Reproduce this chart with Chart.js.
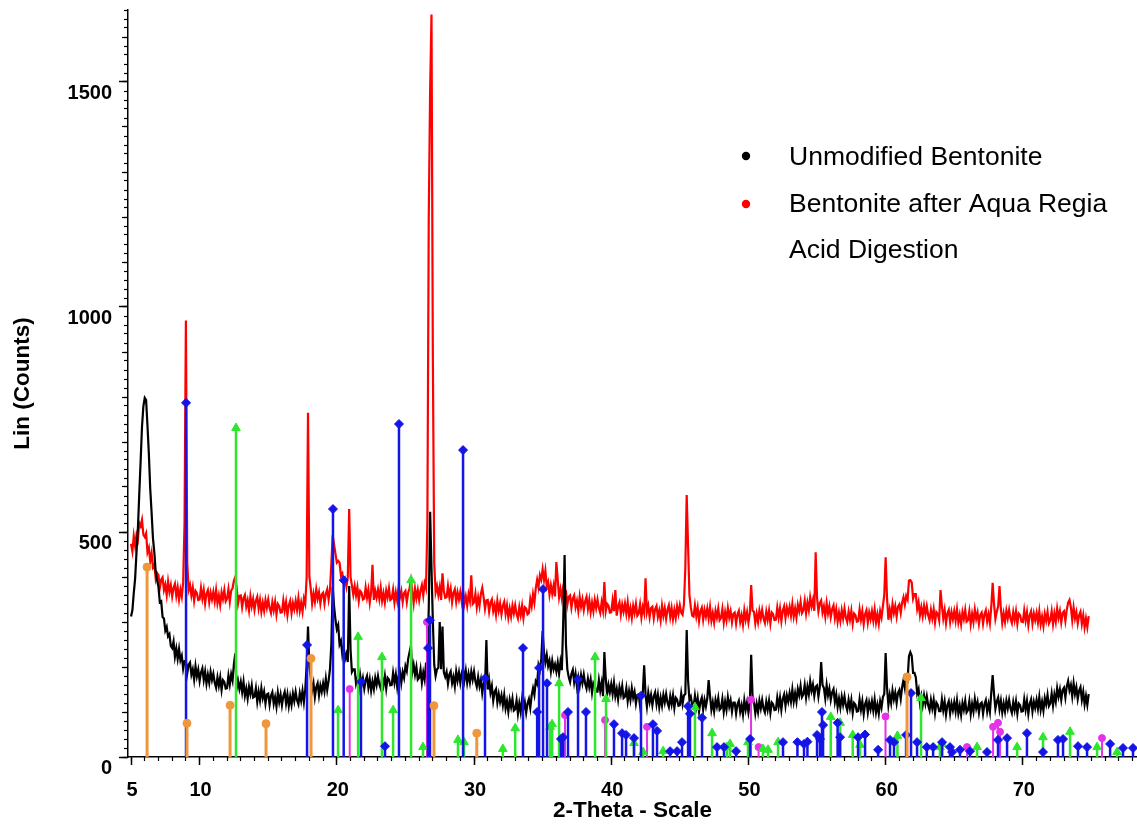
<!DOCTYPE html>
<html>
<head>
<meta charset="utf-8">
<title>XRD - Bentonite</title>
<script src="https://cdn.jsdelivr.net/npm/chart.js@4.4.1/dist/chart.umd.min.js"></script>
<style>
  html, body { margin: 0; padding: 0; background: #fff; }
  canvas { display: block; }
</style>
</head>
<body>
<canvas id="xrd" width="1137" height="830"></canvas>
<script>
// scan grid, degrees 2-theta
const scanStart = 5.0;
const scanStep = 0.1;

// counts, one row per degree (x.0 ... x.9)
const unmodified = [
  312,326,364,397,455,506,584,657,734,779,
  798,793,736,674,596,543,486,454,411,393,
  378,344,346,311,308,281,289,268,273,247,
  242,257,223,241,218,240,215,225,196,213,
  214,186,205,210,183,195,172,202,179,194,
  169,188,197,171,190,163,183,165,189,171,
  185,165,154,177,158,177,149,171,167,152,
  153,181,161,184,170,207,230,152,169,151,
  167,144,167,136,152,130,156,140,159,132,
  134,153,123,145,126,153,131,145,119,139,
  141,116,136,144,118,133,112,143,122,139,
  115,135,145,119,139,113,134,116,141,124,
  145,126,117,142,125,147,122,150,205,290,
  200,176,148,164,133,155,164,137,159,145,
  164,146,174,149,169,195,250,378,335,305,
  284,293,250,258,228,246,217,229,211,380,
  239,189,195,195,163,175,152,182,159,175,
  152,171,180,154,173,147,168,151,176,160,
  180,161,152,176,159,180,152,176,172,159,
  160,187,165,184,156,180,190,165,189,176,
  202,191,218,233,247,188,205,183,200,172,
  176,195,165,188,172,208,210,330,545,420,
  300,205,180,195,198,300,195,290,188,178,
  189,163,183,190,164,178,157,190,170,188,
  165,186,197,171,192,165,185,166,190,172,
  190,168,156,178,157,172,142,163,158,260,
  150,171,143,158,125,145,151,121,140,122,
  137,115,138,108,124,101,127,111,130,103,
  106,126,96,119,100,128,107,122,98,119,
  129,109,137,153,138,168,162,204,193,218,
  280,232,210,227,202,214,190,214,195,206,
  190,210,185,212,193,300,449,250,195,178,
  167,185,194,166,185,157,177,158,182,164,
  183,163,152,174,155,172,143,165,160,145,
  145,171,147,165,135,233,174,139,160,144,
  162,140,165,135,151,128,155,139,158,131,
  134,153,124,146,127,153,132,145,119,138,
  139,114,135,143,204,138,112,143,122,138,
  115,135,144,118,138,111,132,114,138,121,
  140,121,111,135,117,137,109,132,128,114,
  115,141,118,137,140,282,170,127,134,116,
  110,136,112,131,101,123,132,105,127,112,
  130,171,136,105,122,101,127,112,131,105,
  109,129,100,123,105,133,112,126,101,121,
  121,96,117,125,100,115,94,126,105,122,
  99,119,227,135,123,97,118,100,125,108,
  127,108,99,123,105,125,98,121,117,104,
  105,132,111,132,105,129,139,114,137,123,
  142,123,150,123,142,123,151,137,158,133,
  139,160,132,156,139,168,147,161,136,156,
  159,134,155,211,160,153,130,160,137,152,
  127,144,151,122,139,111,130,110,134,116,
  135,115,104,127,108,127,98,120,116,101,
  102,128,105,124,95,117,126,99,121,106,
  124,103,128,99,116,96,124,110,133,140,
  231,154,115,138,120,148,128,143,120,142,
  149,129,155,171,153,178,172,224,233,225,
  187,187,177,141,151,120,136,115,137,118,
  135,115,104,127,108,127,98,121,116,102,
  102,128,104,123,94,115,124,97,119,104,
  122,101,126,97,114,93,120,105,125,99,
  104,124,95,118,101,129,108,122,98,118,
  121,96,117,126,101,118,100,144,182,140,
  107,123,132,106,125,99,119,101,125,108,
  127,108,98,122,104,124,96,119,115,101,
  102,128,105,125,96,118,128,101,123,109,
  127,107,133,105,123,103,131,117,138,113,
  119,141,114,139,123,153,134,150,127,149,
  154,132,157,169,148,160,135,164,140,155,
  129,147,155,127,145,117,136,116,140
];

const digested = [
  474,457,491,469,494,483,520,513,527,494,
  489,497,455,465,435,453,422,428,396,409,
  404,376,394,399,371,383,360,390,367,382,
  357,376,385,358,377,350,372,356,388,520,
  970,430,371,382,359,377,347,369,364,349,
  350,376,352,371,341,363,371,344,365,350,
  367,346,371,342,359,338,366,351,371,346,
  352,373,345,370,375,392,400,376,341,358,
  359,333,353,360,334,348,326,357,335,351,
  327,347,356,330,349,323,343,325,349,332,
  350,331,320,344,326,345,317,340,335,321,
  322,348,325,344,315,337,347,320,342,328,
  347,327,353,325,343,323,352,340,400,765,
  400,374,341,363,345,373,352,366,341,361,
  365,341,363,373,350,371,430,493,472,452,
  432,436,432,403,408,386,395,378,400,551,
  400,381,361,380,359,377,347,369,365,350,
  352,377,354,372,343,366,427,349,369,354,
  372,351,376,347,364,343,370,355,375,349,
  352,372,343,366,348,376,355,369,344,364,
  369,344,365,375,393,368,342,374,353,371,
  349,370,382,359,386,375,520,1200,1480,1650,
  880,430,366,380,360,378,349,408,369,354,
  355,380,356,374,344,365,373,345,366,350,
  367,346,370,341,357,336,362,347,404,340,
  344,363,333,355,336,363,376,355,329,348,
  349,323,343,350,324,338,316,347,325,341,
  317,336,345,318,337,310,330,312,336,319,
  337,318,308,333,315,336,309,333,330,317,
  320,351,335,362,343,375,394,377,404,394,
  417,393,414,379,389,361,382,363,381,357,
  433,394,355,373,352,378,372,369,338,356,
  359,332,352,359,333,347,325,356,334,350,
  327,346,356,329,349,322,343,324,349,331,
  350,331,320,344,326,389,324,340,336,321,
  322,348,324,371,314,335,344,317,339,323,
  341,319,344,314,331,309,336,320,340,314,
  319,339,310,333,320,397,322,336,311,331,
  334,308,329,336,311,325,304,336,314,331,
  307,327,337,311,331,306,327,309,335,318,
  337,321,316,340,420,582,470,360,333,314,
  312,337,313,332,302,324,332,305,327,312,
  330,308,333,303,320,299,325,310,330,304,
  309,329,299,322,304,331,310,324,299,318,
  321,296,317,325,300,315,294,326,305,322,
  299,319,382,325,323,297,318,300,325,308,
  327,308,298,323,305,325,297,321,317,304,
  305,332,310,330,302,325,335,309,332,318,
  334,314,340,312,330,310,338,324,345,320,
  326,347,319,343,326,355,335,349,325,455,
  354,324,342,348,321,335,312,342,319,335,
  311,329,337,309,328,301,321,302,326,308,
  330,310,300,323,305,325,296,319,315,301,
  302,328,305,324,295,317,326,299,321,306,
  324,303,328,299,317,296,324,310,335,360,
  444,354,305,328,311,340,320,335,312,334,
  339,320,343,355,338,358,350,392,393,388,
  352,362,362,329,344,315,333,313,336,317,
  335,315,304,327,308,328,299,322,318,304,
  371,336,308,327,297,319,327,300,322,306,
  324,303,328,299,316,295,322,307,327,301,
  304,324,295,318,300,328,307,321,296,316,
  321,296,317,326,301,317,297,334,387,340,
  307,323,335,380,329,298,319,300,325,308,
  327,308,298,322,304,324,296,319,315,301,
  300,326,303,322,293,315,324,297,319,304,
  320,299,324,295,312,291,318,303,323,297,
  304,324,295,319,301,330,309,324,299,320,
  324,302,327,343,349,333,304,332,308,322,
  297,315,323,296,315,288,308,289,313
];

// reference patterns: stick position (2-theta) and intensity (counts)
const orangePos = [6.17, 9.08, 12.22, 14.84, 18.12, 27.08, 30.2, 61.56];
const orangeInt = [422, 75, 115, 74, 219, 114, 53, 178];

const bluePos = [9.01, 17.83, 19.72, 20.5, 21.76, 23.51, 24.53, 26.65, 26.79, 29.2,
  30.8, 33.57, 34.6, 34.74, 35.03, 35.32, 36.34, 36.49, 36.85, 37.58,
  38.16, 40.2, 40.79, 41.08, 41.66, 42.17, 43.04, 43.34, 44.29, 44.8,
  45.16, 45.6, 45.74, 46.62, 47.71, 48.22, 49.1, 50.12, 52.52, 53.57,
  54.05, 54.3, 55.0, 55.22, 55.36, 55.44, 56.5, 56.68, 57.99, 58.5,
  59.45, 60.32, 60.61, 61.49, 61.85, 62.29, 63.0, 63.46, 64.11, 64.69,
  64.84, 65.42, 66.15, 67.39, 68.19, 68.85, 70.3, 71.47, 72.56, 72.93,
  74.02, 74.68, 76.36, 77.3, 78.03];
const blueInt = [787, 249, 551, 393, 167, 24, 740, 242, 304, 682,
  175, 242, 100, 198, 373, 164, 40, 44, 100, 173,
  100, 73, 53, 49, 42, 136, 73, 58, 13, 13,
  33, 113, 96, 87, 22, 22, 13, 40, 33, 33,
  29, 34, 49, 40, 100, 71, 76, 44, 44, 50,
  16, 38, 33, 49, 142, 33, 22, 22, 33, 22,
  11, 16, 13, 11, 38, 42, 53, 11, 38, 40,
  24, 22, 29, 20, 20];

const greenPos = [12.65, 20.09, 21.55, 23.29, 24.1, 25.41, 26.28, 28.83, 29.27, 32.1,
  33.0, 35.54, 35.69, 36.2, 38.82, 39.62, 41.66, 42.32, 43.78, 46.1,
  47.35, 48.44, 48.66, 49.97, 51.06, 51.43, 52.16, 56.0, 56.68, 57.6,
  58.13, 60.86, 62.58, 63.96, 64.11, 66.66, 69.58, 71.47, 73.44, 75.41,
  76.87];
const greenInt = [731, 104, 267, 222, 104, 393, 22, 38, 33, 18,
  64, 67, 73, 164, 222, 129, 31, 11, 13, 111,
  53, 22, 29, 33, 18, 16, 33, 89, 76, 49,
  27, 47, 131, 22, 29, 22, 22, 44, 56, 22,
  11];

const magentaPos = [20.94, 26.57, 36.63, 39.55, 42.61, 50.19, 50.74, 59.99, 65.93, 67.83, 68.19, 68.34, 75.77];
const magentaInt = [151, 300, 93, 82, 67, 127, 22, 90, 22, 67, 76, 56, 42];

// axis labels
const xLabels = [5, 10, 20, 30, 40, 50, 60, 70];
const yLabels = [0, 500, 1000, 1500];
const legendText = ['Unmodified Bentonite', 'Bentonite after Aqua Regia', 'Acid Digestion'];

const X_MIN = 4.78, X_MAX = 78.32, Y_MAX = 1660;
const FAMILY = '"Liberation Sans", Arial, Helvetica, sans-serif';

function trace(counts) {
  return counts.map((c, i) => ({ x: +(scanStart + i * scanStep).toFixed(2), y: c }));
}

// each stick is a 0 -> intensity segment, broken by a null point
function sticks(pos, ints) {
  const pts = [];
  pos.forEach((p, i) => {
    pts.push({ x: p, y: 0 }, { x: p, y: ints[i] }, { x: p, y: null });
  });
  return pts;
}

function stickSet(pos, ints, color, style, radius, width) {
  return {
    type: 'line',
    data: sticks(pos, ints),
    borderColor: color,
    backgroundColor: color,
    borderWidth: width,
    pointStyle: style,
    pointRadius: ctx => (ctx.dataIndex % 3 === 1 ? radius : 0),
    pointBorderWidth: 1,
    pointBorderColor: color,
    spanGaps: false,
    fill: false,
    order: 0
  };
}

// minor tick axes share the data range but draw only short tick marks
function tickAxis(pos, values, len, weight) {
  return {
    type: 'linear',
    position: pos,
    min: pos === 'bottom' ? X_MIN : 0,
    max: pos === 'bottom' ? X_MAX : Y_MAX,
    weight: weight,
    afterBuildTicks: s => { s.ticks = values.map(v => ({ value: v })); },
    afterFit: s => {
      if (pos === 'bottom') s.height = 0; else s.width = 0;
      s.paddingTop = s.paddingBottom = s.paddingLeft = s.paddingRight = 0;
    },
    grid: { drawOnChartArea: false, drawTicks: true, tickLength: len, tickColor: '#000', tickWidth: 1.2 },
    border: { display: false },
    ticks: { display: false, autoSkip: false }
  };
}

const xMinorVals = [], yMinorVals = [], yMidVals = [];
for (let v = 5; v <= 78; v++) xMinorVals.push(v);
for (let v = 0; v <= Y_MAX; v += 20) yMinorVals.push(v);
for (let v = 0; v <= Y_MAX; v += 100) yMidVals.push(v);

// key in the upper right of the plot
const sampleKey = {
  id: 'sampleKey',
  afterDraw(chart) {
    const c = chart.ctx;
    c.save();
    c.font = '26.5px ' + FAMILY;
    c.fillStyle = '#000';
    c.textBaseline = 'alphabetic';
    c.fillText(legendText[0], 789, 165);
    c.fillText(legendText[1], 789, 212);
    c.fillText(legendText[2], 789, 258);
    c.fillStyle = '#000';
    c.beginPath(); c.arc(746, 156, 4.2, 0, Math.PI * 2); c.fill();
    c.fillStyle = '#ff0000';
    c.beginPath(); c.arc(746, 204, 4.2, 0, Math.PI * 2); c.fill();
    c.restore();
  }
};

new Chart(document.getElementById('xrd'), {
  type: 'line',
  data: {
    datasets: [
      stickSet(orangePos, orangeInt, '#f0963c', 'circle', 4, 3),
      stickSet(bluePos, blueInt, '#1414e6', 'rectRot', 4.5, 2.5),
      stickSet(greenPos, greenInt, '#2ee62e', 'triangle', 5, 2.5),
      stickSet(magentaPos, magentaInt, '#e632e6', 'circle', 3.5, 2),
      {
        label: legendText[0],
        data: trace(unmodified),
        borderColor: '#000000',
        borderWidth: 2.2,
        pointRadius: 0,
        fill: false,
        order: 1
      },
      {
        label: legendText[1] + ' ' + legendText[2],
        data: trace(digested),
        borderColor: '#ff0000',
        borderWidth: 2.2,
        pointRadius: 0,
        fill: false,
        order: 2
      }
    ]
  },
  options: {
    responsive: false,
    animation: false,
    events: [],
    layout: { padding: { top: 10, left: 0, right: 0, bottom: 0 } },
    plugins: { legend: { display: false }, tooltip: { enabled: false } },
    elements: { line: { tension: 0 } },
    scales: {
      x: {
        type: 'linear',
        position: 'bottom',
        min: X_MIN,
        max: X_MAX,
        weight: 2,
        afterBuildTicks: s => { s.ticks = xLabels.map(v => ({ value: v })); },
        afterFit: s => { s.height = 73; s.paddingLeft = 0; s.paddingRight = 0; },
        grid: { drawOnChartArea: false, drawTicks: true, tickLength: 8, tickColor: '#000', tickWidth: 1.5 },
        border: { display: true, color: '#000', width: 1.5 },
        ticks: {
          color: '#000',
          font: { family: FAMILY, size: 20, weight: 'bold' },
          padding: 13,
          labelOffset: 1,
          maxRotation: 0,
          autoSkip: false,
          callback: v => String(v)
        },
        title: {
          display: true,
          text: '2-Theta - Scale',
          color: '#000',
          font: { family: FAMILY, size: 22.5, weight: 'bold' },
          padding: { top: 0, bottom: 6 }
        }
      },
      xMinor: tickAxis('bottom', xMinorVals, 4, 0),
      y: {
        type: 'linear',
        position: 'left',
        min: 0,
        max: Y_MAX,
        weight: 2,
        afterBuildTicks: s => { s.ticks = yLabels.map(v => ({ value: v })); },
        afterFit: s => { s.width = 128; s.paddingTop = 0; s.paddingBottom = 0; },
        grid: { drawOnChartArea: false, drawTicks: true, tickLength: 9, tickColor: '#000', tickWidth: 1.5 },
        border: { display: true, color: '#000', width: 1.5 },
        ticks: {
          color: '#000',
          font: { family: FAMILY, size: 20, weight: 'bold' },
          padding: 7,
          labelOffset: 11,
          autoSkip: false,
          callback: v => String(v)
        },
        title: {
          display: true,
          text: 'Lin (Counts)',
          color: '#000',
          font: { family: FAMILY, size: 22.5, weight: 'bold' },
          padding: { top: 9, bottom: 0 }
        }
      },
      yMid: tickAxis('left', yMidVals, 6, 1),
      yMinor: tickAxis('left', yMinorVals, 4, 0)
    }
  },
  plugins: [sampleKey]
});
</script>
</body>
</html>
